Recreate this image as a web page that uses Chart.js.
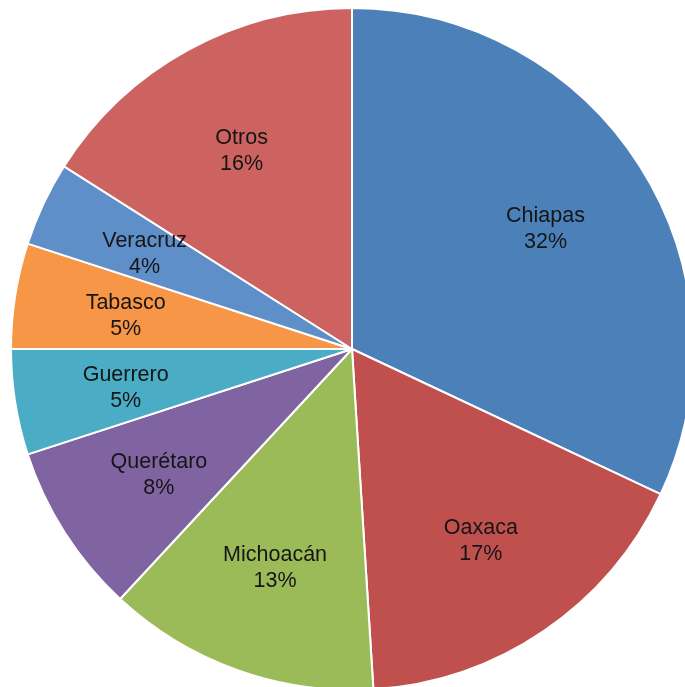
<!DOCTYPE html>
<html>
<head>
<meta charset="utf-8">
<script src="https://cdn.jsdelivr.net/npm/chart.js@4"></script>
<style>
  html, body { margin: 0; padding: 0; background: #fff; overflow: hidden; }
  body { width: 685px; height: 687px; position: relative; }
  #wrap { position: absolute; left: 10px; top: 7px; width: 684px; height: 684px; }
</style>
</head>
<body>
<div id="wrap"><canvas id="pieChart" width="684" height="684"></canvas></div>
<script>
  const states = ["Chiapas", "Oaxaca", "Michoacán", "Querétaro", "Guerrero", "Tabasco", "Veracruz", "Otros"];
  const shares = [32, 17, 12.9, 8.1, 5, 5, 4, 16];
  const shareLabels = ["32%", "17%", "13%", "8%", "5%", "5%", "4%", "16%"];
  const sliceColors = ["#4b80b9", "#c0504d", "#9bbb59", "#8064a2", "#4bacc6", "#f79646", "#5f8fc8", "#cc6360"];

  // draws name + percent inside each slice
  const sliceLabels = {
    id: "sliceLabels",
    afterDatasetsDraw(chart) {
      const { ctx } = chart;
      const arcs = chart.getDatasetMeta(0).data;
      ctx.save();
      ctx.fillStyle = "#151515";
      ctx.font = "21.5px 'Liberation Sans', Arial, sans-serif";
      ctx.textAlign = "center";
      ctx.textBaseline = "middle";
      arcs.forEach((arc, i) => {
        const mid = (arc.startAngle + arc.endAngle) / 2;
        const r = arc.outerRadius * 0.672;
        const x = arc.x + Math.cos(mid) * r;
        const y = arc.y + Math.sin(mid) * r + 3;
        ctx.fillText(states[i], x, y - 13);
        ctx.fillText(shareLabels[i], x, y + 13);
      });
      ctx.restore();
    }
  };

  new Chart(document.getElementById("pieChart").getContext("2d"), {
    type: "pie",
    data: {
      labels: states,
      datasets: [{
        data: shares,
        backgroundColor: sliceColors,
        borderColor: "#ffffff",
        borderWidth: 2
      }]
    },
    options: {
      responsive: false,
      animation: false,
      layout: { padding: 0 },
      plugins: {
        legend: { display: false },
        tooltip: { enabled: false }
      }
    },
    plugins: [sliceLabels]
  });
</script>
</body>
</html>
